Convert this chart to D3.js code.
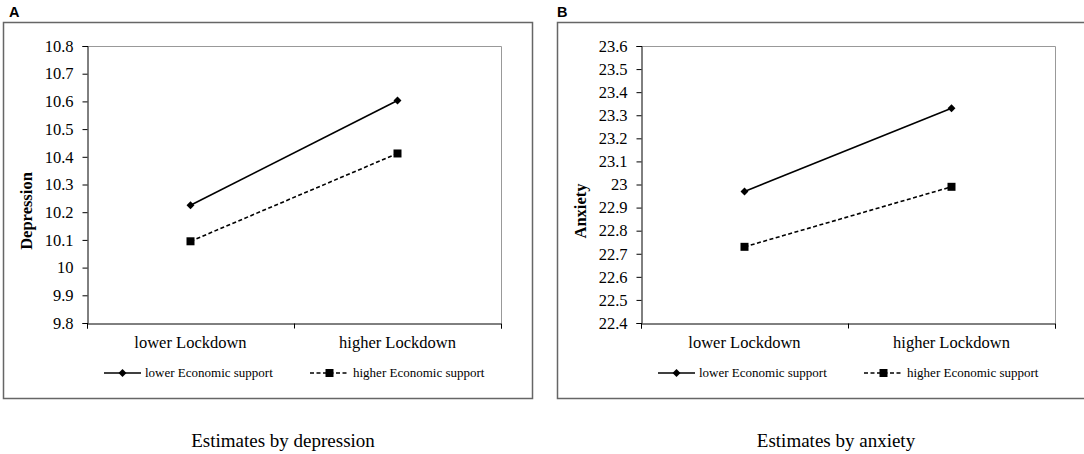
<!DOCTYPE html>
<html>
<head>
<meta charset="utf-8">
<script src="https://cdn.jsdelivr.net/npm/d3@7"></script>
<style>
  body { margin: 0; background: #fff; }
  text { font-family: "Liberation Serif", "Times New Roman", serif; fill: #000; }
</style>
</head>
<body>
<script>
// categories and series
var categories = ["lower Lockdown", "higher Lockdown"];
var seriesNames = ["lower Economic support", "higher Economic support"];

var depLower = [10.225, 10.603];
var depHigher = [10.095, 10.412];
var depTicks = [9.8, 9.9, 10, 10.1, 10.2, 10.3, 10.4, 10.5, 10.6, 10.7, 10.8];

var anxLower = [22.97, 23.33];
var anxHigher = [22.73, 22.99];
var anxTicks = [22.4, 22.5, 22.6, 22.7, 22.8, 22.9, 23, 23.1, 23.2, 23.3, 23.4, 23.5, 23.6];

var svg = d3.select("body").append("svg")
    .attr("width", 1084)
    .attr("height", 454);

function drawPanel(opt) {
  var g = svg.append("g")
      .attr("transform", "translate(" + opt.left + ",0)");

  // panel letter
  g.append("text")
      .attr("x", opt.letterX)
      .attr("y", 17)
      .style("font-family", "'Liberation Sans', Arial, sans-serif")
      .style("font-weight", "bold")
      .style("font-size", "14.5px")
      .text(opt.letter);

  // outer box
  g.append("rect")
      .attr("x", 0.5)
      .attr("y", 22.5)
      .attr("width", opt.boxWidth)
      .attr("height", 376)
      .attr("fill", "none")
      .attr("stroke", "#666")
      .attr("stroke-width", 1.5);

  var px = 84, py = 46, pw = 414, ph = 277;

  var x = d3.scalePoint()
      .domain(categories)
      .range([px, px + pw])
      .padding(0.5);

  var y = d3.scaleLinear()
      .domain(d3.extent(opt.ticks))
      .range([py + ph, py]);

  // plot area border (top/right)
  g.append("path")
      .attr("d", "M" + px + "," + (py + 0.5) + "H" + (px + pw + 0.5) + "V" + (py + ph))
      .attr("fill", "none")
      .attr("stroke", "#999")
      .attr("stroke-width", 1);

  var yAxis = g.append("g")
      .attr("transform", "translate(" + (px + 0.5) + ",0)")
      .call(d3.axisLeft(y).tickValues(opt.ticks).tickSize(5).tickPadding(9)
        .tickFormat(function(d) { return d3.format("")(+d.toFixed(1)); }));
  yAxis.select(".domain").attr("stroke", "#000");
  yAxis.selectAll("text")
      .style("font-size", "16.5px")
      .style("font-family", "'Liberation Serif', 'Times New Roman', serif");

  // x axis: ticks at borders between categories
  var xb = d3.scaleLinear().domain([0, 2]).range([px, px + pw]);
  var xAxis = g.append("g")
      .attr("transform", "translate(0," + (py + ph + 0.5) + ")")
      .call(d3.axisBottom(xb).tickValues([0, 1, 2]).tickSize(5).tickFormat(""));
  xAxis.select(".domain").attr("stroke", "#000");

  g.selectAll(".cat")
      .data(categories)
    .enter().append("text")
      .attr("class", "cat")
      .attr("x", function(d) { return x(d); })
      .attr("y", 348)
      .attr("text-anchor", "middle")
      .style("font-size", "16.5px")
      .text(function(d) { return d; });

  // y title
  g.append("text")
      .attr("transform", "translate(" + 29 + ",211) rotate(-90)")
      .attr("text-anchor", "middle")
      .style("font-weight", "bold")
      .style("font-size", "16.5px")
      .text(opt.ylabel);

  var line = d3.line()
      .x(function(d, i) { return x(categories[i]); })
      .y(function(d) { return y(d); });

  g.append("path")
      .datum(opt.lower)
      .attr("d", line)
      .attr("fill", "none")
      .attr("stroke", "#000")
      .attr("stroke-width", 1.6);

  g.append("path")
      .datum(opt.higher)
      .attr("d", line)
      .attr("fill", "none")
      .attr("stroke", "#000")
      .attr("stroke-width", 1.6)
      .attr("stroke-dasharray", "4,2.5");

  var diamond = d3.symbol().type(d3.symbolDiamond2).size(40);
  var square = d3.symbol().type(d3.symbolSquare).size(64);

  g.selectAll(".dia")
      .data(opt.lower)
    .enter().append("path")
      .attr("class", "dia")
      .attr("transform", function(d, i) { return "translate(" + x(categories[i]) + "," + y(d) + ")"; })
      .attr("d", diamond)
      .attr("fill", "#000");

  g.selectAll(".sq")
      .data(opt.higher)
    .enter().append("path")
      .attr("class", "sq")
      .attr("transform", function(d, i) { return "translate(" + x(categories[i]) + "," + y(d) + ")"; })
      .attr("d", square)
      .attr("fill", "#000");

  // legend
  var leg = g.append("g").attr("transform", "translate(0,373)");
  leg.append("line")
      .attr("x1", 101).attr("x2", 138)
      .attr("stroke", "#000").attr("stroke-width", 1.6);
  leg.append("path")
      .attr("transform", "translate(119.5,0)")
      .attr("d", diamond).attr("fill", "#000");
  leg.append("text")
      .attr("x", 142).attr("y", 4)
      .style("font-size", "13px")
      .text(seriesNames[0]);

  leg.append("line")
      .attr("x1", 307).attr("x2", 346)
      .attr("stroke", "#000").attr("stroke-width", 1.6)
      .attr("stroke-dasharray", "4,2.5");
  leg.append("path")
      .attr("transform", "translate(326.5,0)")
      .attr("d", square).attr("fill", "#000");
  leg.append("text")
      .attr("x", 350).attr("y", 4)
      .style("font-size", "13px")
      .text(seriesNames[1]);

  // caption
  g.append("text")
      .attr("x", opt.captionX)
      .attr("y", 447)
      .attr("text-anchor", "middle")
      .style("font-size", "19px")
      .text(opt.caption);
}

drawPanel({
  letter: "A", letterX: 6, left: 3, boxWidth: 529,
  ticks: depTicks, lower: depLower, higher: depHigher,
  ylabel: "Depression", caption: "Estimates by depression", captionX: 280
});

drawPanel({
  letter: "B", letterX: 0, left: 557, boxWidth: 540,
  ticks: anxTicks, lower: anxLower, higher: anxHigher,
  ylabel: "Anxiety", caption: "Estimates by anxiety", captionX: 279
});
</script>
</body>
</html>
